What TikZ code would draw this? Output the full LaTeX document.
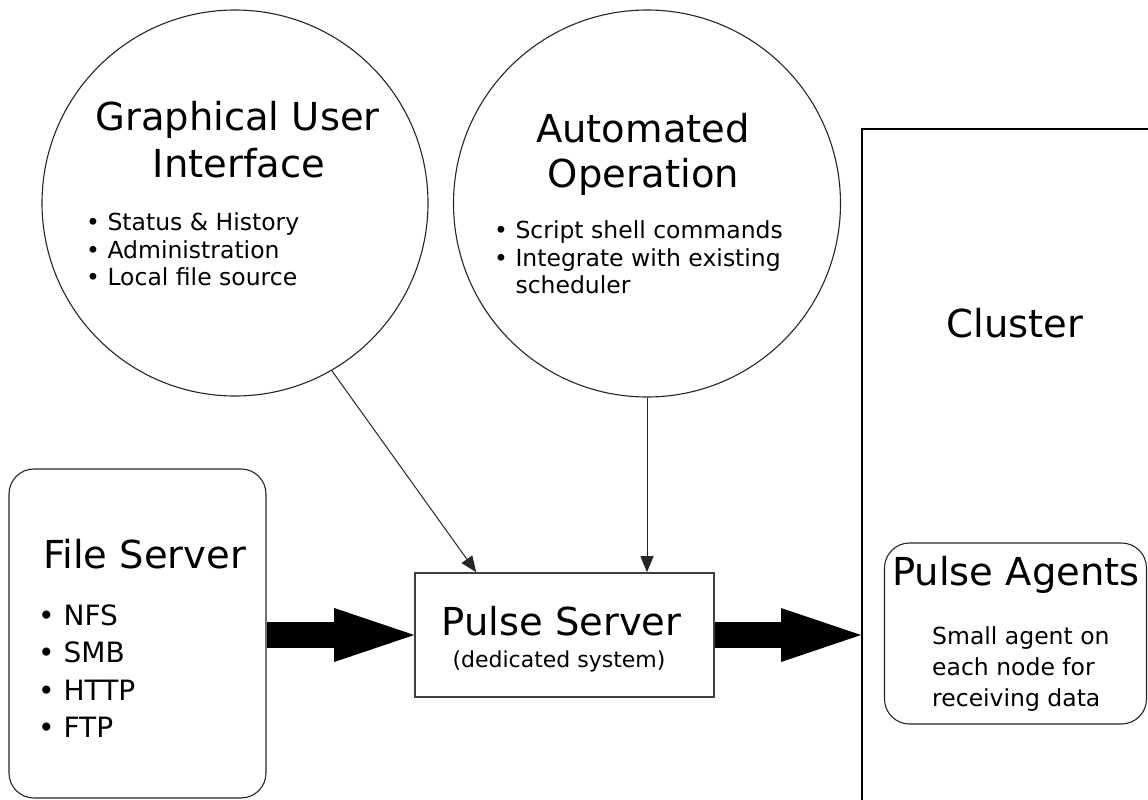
\documentclass[tikz,border=0pt]{standalone}
\usepackage{fontspec}
\setmainfont{DejaVu Sans}
\usetikzlibrary{arrows.meta,calc}
\begin{document}
\begin{tikzpicture}[x=1pt,y=-1pt,
  shapeline/.style={draw=black!85, line width=1.1pt, inner sep=0pt},
  title/.style={inner sep=0pt, font=\fontsize{38.5}{46}\selectfont, anchor=base},
  subtxt/.style={inner sep=0pt, font=\fontsize{22}{26}\selectfont, anchor=base},
  bul/.style={inner sep=0pt, font=\fontsize{23.5}{28}\selectfont, anchor=base west},
  fsbul/.style={inner sep=0pt, font=\fontsize{28}{34}\selectfont, anchor=base west},
  thinarrow/.style={draw=black!85, line width=1pt, -{Triangle[length=16pt 0 0,width=13pt 0 0]}},
  fatarrow/.style={draw=black, line width=26pt, -{Triangle[length=80pt 0 0,width=54pt 0 0,line width=0pt 0 0]}},
]
\useasboundingbox (0,0) rectangle (1148,800);
\clip (0,0) rectangle (1148,800);
\fill[white] (0,0) rectangle (1148,800);

% shapes
\node[circle, shapeline, minimum size=386pt] (gui) at (235,203) {};
\node[circle, shapeline, minimum size=387pt] (auto) at (647,203.5) {};
\node[rectangle, rounded corners=25pt, shapeline, minimum width=257pt, minimum height=329pt] (fs) at (137.5,633.5) {};
\node[rectangle, draw=black!75, line width=1.6pt, inner sep=0pt, minimum width=299pt, minimum height=124pt] (ps) at (564.5,635) {};
\node[rectangle, draw=black, line width=2pt, inner sep=0pt, minimum width=338pt, minimum height=711pt] (cl) at (1031,484.5) {};
\node[rectangle, rounded corners=25pt, shapeline, minimum width=262pt, minimum height=181pt] (pa) at (1015.5,633.5) {};

% GUI text
\node[title] (guit1) at (237.5,130) {Graphical User};
\node[title] (guit2) at (239,177) {Interface};
\node[bul] (guib1) at (86,230) {• Status \& History};
\node[bul] (guib2) at (86,258) {• Administration};
\node[bul] (guib3) at (86,285) {• Local file source};

% Automated text
\node[title] (autot1) at (643,142) {Automated};
\node[title] (autot2) at (643.5,187) {Operation};
\node[bul] (autob1) at (494,238) {• Script shell commands};
\node[bul] (autob2) at (494,266) {• Integrate with existing};
\node[bul] (autob3) at (494,293) {\hphantom{•} scheduler};

% File server text
\node[title, anchor=base west] (fst) at (43,568) {File Server};
\node[fsbul] (fsb1) at (38,625) {• NFS};
\node[fsbul] (fsb2) at (38,662.5) {• SMB};
\node[fsbul] (fsb3) at (38,700) {• HTTP};
\node[fsbul] (fsb4) at (38,737.5) {• FTP};

% Pulse server text
\node[title] (pst) at (561.5,635) {Pulse Server};
\node[subtxt] (pss) at (559,667) {(dedicated system)};

% Cluster text
\node[title] (clt) at (1015,337) {Cluster};
\node[title] (pat) at (1016,585) {Pulse Agents};
\node[bul] (pab1) at (932,644) {Small agent on};
\node[bul] (pab2) at (932,675) {each node for};
\node[bul] (pab3) at (932,706) {receiving data};

% connectors
\coordinate (guiend) at ($(ps.north west)+(62,0)$);
\draw[thinarrow] (gui.-60) -- (guiend);
\draw[thinarrow] (auto.south) -- (auto.south |- ps.north);
\draw[fatarrow] (fs.east |- ps.west) -- (ps.west);
\draw[fatarrow] (ps.east) -- (ps.east -| cl.west);
\end{tikzpicture}
\end{document}
